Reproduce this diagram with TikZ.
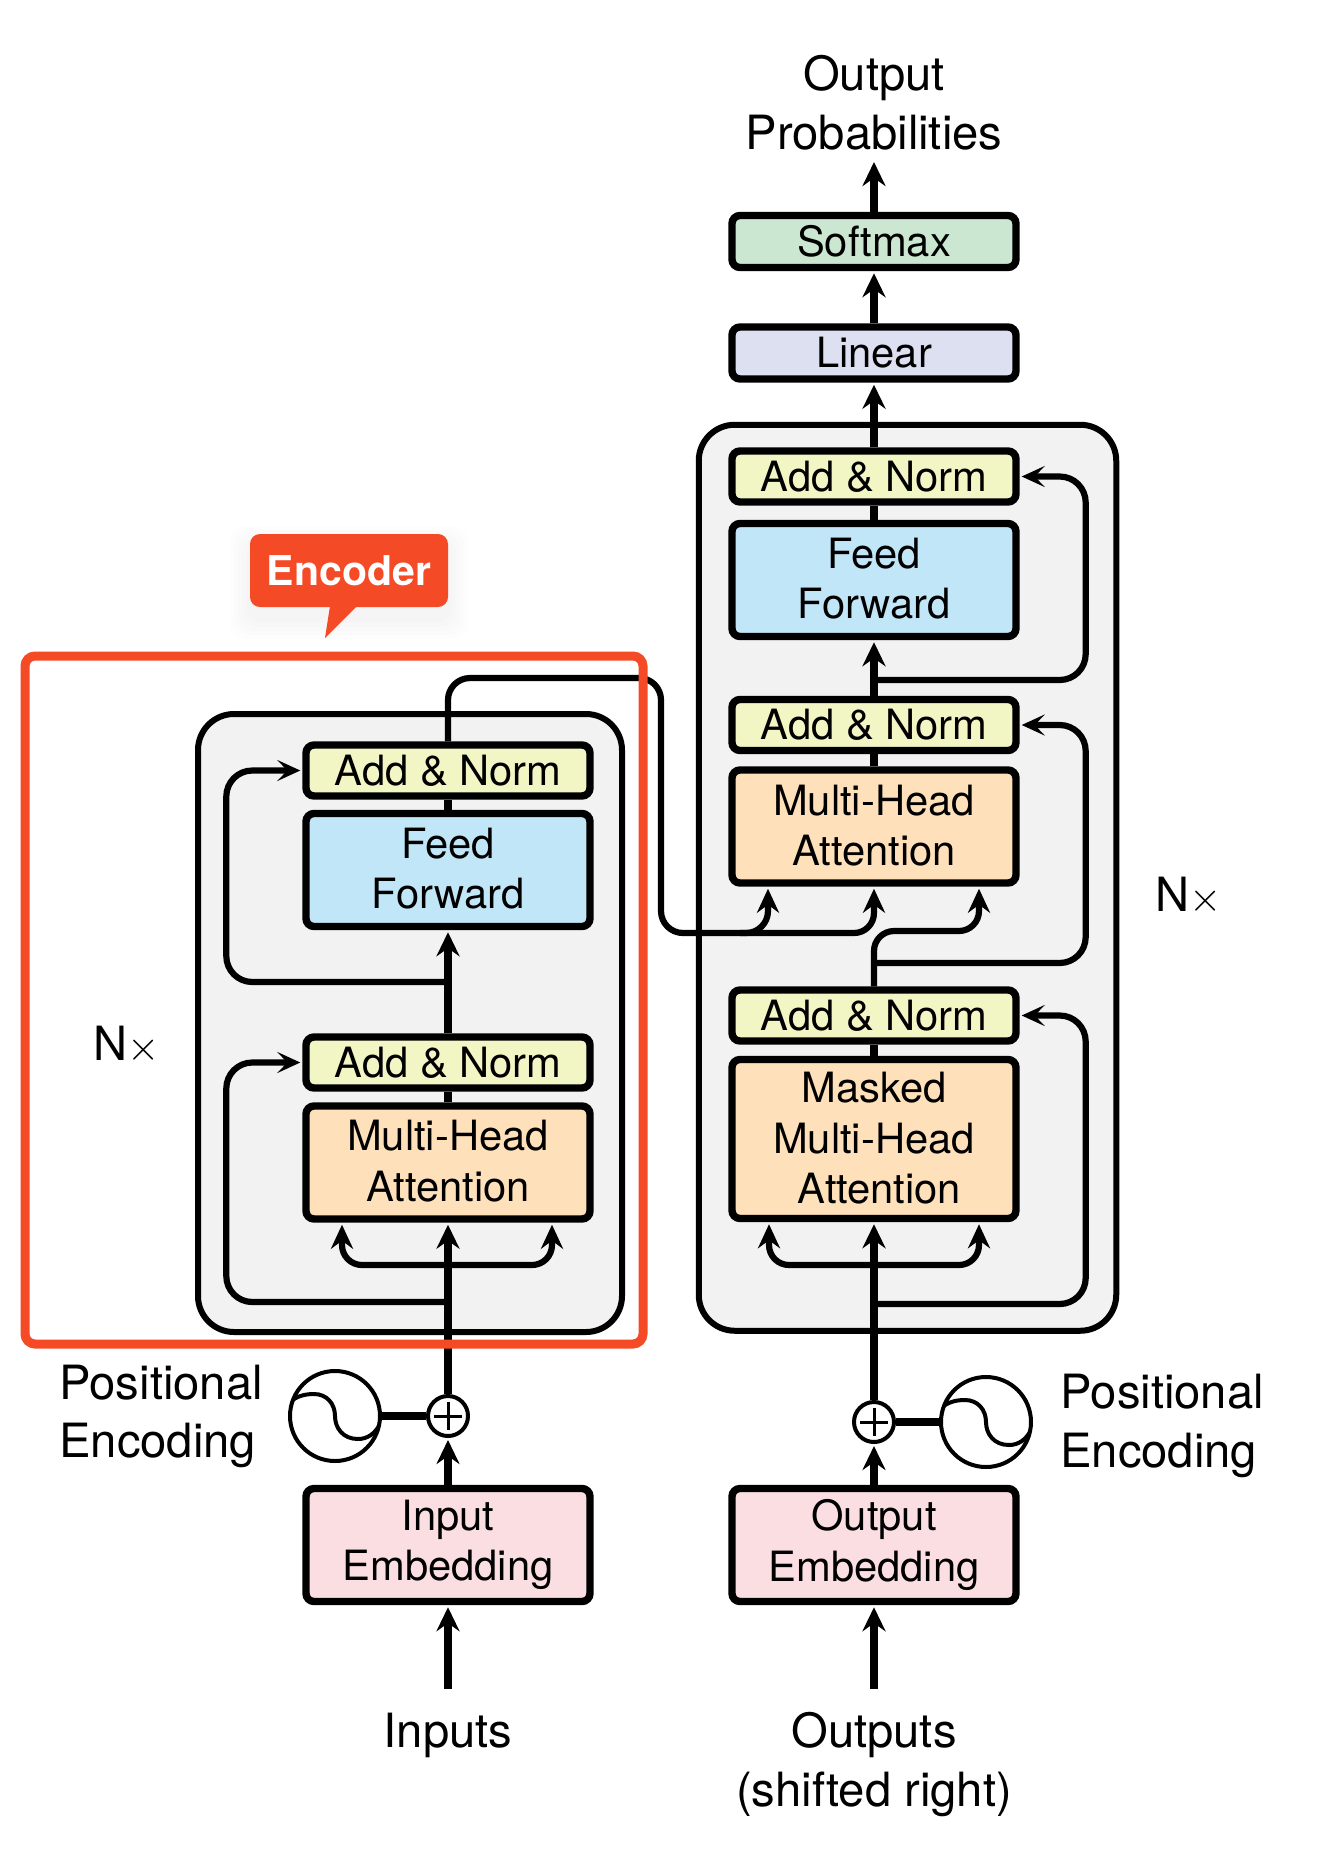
\documentclass[tikz,border=0pt]{standalone}
\usepackage{fontspec}
\setmainfont{TeX Gyre Heros}
\usetikzlibrary{arrows.meta}

\definecolor{encoderred}{HTML}{F54A26}
\definecolor{stackgray}{HTML}{F2F2F2}
\definecolor{addcolor}{HTML}{F2F5C4}
\definecolor{feedcolor}{HTML}{C1E6F8}
\definecolor{attncolor}{HTML}{FEE0BA}
\definecolor{embedcolor}{HTML}{FBDEE2}
\definecolor{softcolor}{HTML}{CCE7D1}
\definecolor{linearcolor}{HTML}{DDE0F1}

\newcommand{\boxfont}{\fontsize{20.85}{25.2}\selectfont}
\newcommand{\labelfont}{\fontsize{23.6}{29.4}\selectfont}
\newcommand{\repeatmark}{N{\fontsize{20}{20}\selectfont$\times$}}
\newcommand{\lift}[2]{\raisebox{#1}{#2}}

\tikzset{
  stack/.style={draw,line width=3pt,fill=stackgray,rounded corners=18pt,inner sep=0pt},
  block/.style={draw,line width=3.7pt,rounded corners=4pt,minimum width=142pt,inner sep=0pt,align=center,font=\boxfont},
  addnorm/.style={block,fill=addcolor,minimum height=25.5pt},
  feedbox/.style={block,fill=feedcolor,minimum height=56.5pt},
  attnbox/.style={block,fill=attncolor,minimum height=56.5pt},
  embedbox/.style={block,fill=embedcolor,minimum height=56.5pt},
  caption/.style={inner sep=0pt,align=center,font=\labelfont},
  stem/.style={line width=3.6pt},
  flow/.style={stem,shorten >=1pt,-{Stealth[length=12pt,width=11.5pt,inset=4pt]}},
  skip/.style={line width=3.1pt,rounded corners=13pt,shorten >=1pt,-{Stealth[length=11.5pt,width=10.5pt,inset=5pt]}},
  fork/.style={line width=3.1pt,rounded corners=10pt,shorten >=1pt,-{Stealth[length=12pt,width=11pt,inset=4pt]}},
  plusnode/.style={circle,draw,line width=2pt,fill=white,minimum size=20pt,inner sep=0pt,
    path picture={\draw[line width=1.5pt,shift={(path picture bounding box.center)}] (-14,0) -- (14,0) (0,-14) -- (0,14);}},
  wavenode/.style={circle,draw,line width=2pt,fill=white,minimum size=45pt,inner sep=0pt,
    path picture={\draw[line width=2pt,shift={(path picture bounding box.center)}]
      (-45,-14) .. controls (-38,-20) and (-30,-22) .. (-21,-22) .. controls (-8,-22) and (0,-12) .. (0,0)
      .. controls (0,12) and (8,23) .. (23,23) .. controls (32,23) and (40,18) .. (45,8);}}
}

\begin{document}
\begin{tikzpicture}[x=0.5pt,y=-0.5pt]
\useasboundingbox (0,0) rectangle (1320,1860);

% Draw the two gray stacks
\node [stack,minimum width=212pt,minimum height=309pt] (encstack) at (410,1023) {};
\node [stack,minimum width=208.75pt,minimum height=453pt] (decstack) at (907.5,877.75) {};

% Draw encoder blocks
\node [addnorm] (encaddtop) at (448,770.5) {Add \& Norm};
\node [feedbox] (encfeed) at (448,870) {\lift{1.5pt}{Feed}\\\lift{1.5pt}{Forward}};
\node [addnorm] (encaddlow) at (448,1062.5) {Add \& Norm};
\node [attnbox] (encattn) at (448,1162.5) {\lift{1.8pt}{Multi-Head}\\\lift{1.8pt}{Attention}};
\node [embedbox] (encembed) at (448,1545) {\lift{-1.2pt}{Input}\\\lift{-1.2pt}{Embedding}};

% Draw decoder blocks
\node [block,fill=softcolor,minimum height=26pt] (softmax) at (874,241.5) {Softmax};
\node [block,fill=linearcolor,minimum height=26pt] (linear) at (874,353) {Linear};
\node [addnorm] (decaddtop) at (874,476.5) {Add \& Norm};
\node [feedbox] (decfeed) at (874,580) {\lift{1.8pt}{Feed}\\\lift{1.8pt}{Forward}};
\node [addnorm] (decaddmid) at (874,725) {Add \& Norm};
\node [attnbox] (decattn) at (874,826.5) {\lift{1pt}{Multi-Head}\\\lift{1pt}{Attention}};
\node [addnorm] (decaddlow) at (874,1015.5) {Add \& Norm};
\node [attnbox,minimum height=79.5pt] (decmask) at (874,1139) {\lift{1pt}{Masked}\\\lift{1pt}{Multi-Head}\\\hspace*{5.5pt}\lift{1pt}{Attention}};
\node [embedbox] (decembed) at (874,1545) {\lift{-1.2pt}{Output}\\\lift{-1.2pt}{Embedding}};

% Draw plus and wave circles
\node [plusnode] (encplus) at (448,1416) {};
\node [wavenode] (encwave) at (335,1416) {};
\node [plusnode] (decplus) at (874,1422) {};
\node [wavenode] (decwave) at (986,1422) {};

% Draw texts
\node [caption] (outprob) at (874,103) {Output\\Probabilities};
\node [caption] (encpos) at (59,1416.5) [anchor=west,align=left] {Positional\\Encoding};
\node [caption] (decpos) at (1060,1426) [anchor=west,align=left] {Positional\\Encoding};
\node [caption] (inputs) at (448,1735.5) {Inputs};
\node [caption] (outputs) at (874,1764.5) {Outputs\\(shifted right)};
\node [caption] (encrepeat) at (127,1045) {\repeatmark};
\node [caption] (decrepeat) at (1189,896) {\repeatmark};

% Free ends and branch points
\coordinate (inputtail) at (448,1689);
\coordinate (outputtail) at (874,1689);
\coordinate (outprobfoot) at (874,160);
\coordinate (encforkA) at (448,1265);
\coordinate (encbranchA) at (448,1302);
\coordinate (encbranchB) at (448,982);
\coordinate (routetop) at (661,678);
\coordinate (routebottom) at (661,933);
\coordinate (routejoin) at (740,933);
\coordinate (decforkA) at (874,1265);
\coordinate (decbranchA) at (874,1304);
\coordinate (decbranchB) at (874,963);
\coordinate (decbranchC) at (874,680);
\coordinate (deccross) at (874,931);

% Encoder connectors
\draw [flow] (inputtail) -- (encembed.south);
\draw [flow] (encembed.north) -- (encplus.south);
\draw [stem] (encwave.east) -- (encplus.west);
\draw [flow] (encplus.north) -- (encattn.south);
\draw [fork] (encforkA) -| ([xshift=-53pt]encattn.south);
\draw [fork] (encforkA) -| ([xshift=52pt]encattn.south);
\draw [skip] (encbranchA) -| ([xshift=-38pt]encaddlow.west) -- (encaddlow.west);
\draw [stem] (encattn.north) -- (encaddlow.south);
\draw [flow] (encaddlow.north) -- (encfeed.south);
\draw [skip] (encbranchB) -| ([xshift=-38pt]encaddtop.west) -- (encaddtop.west);
\draw [stem] (encfeed.north) -- (encaddtop.south);

% Line from encoder to decoder
\draw [fork,rounded corners=11pt] (encaddtop.north) |- (routetop) -- (routebottom) -| ([xshift=-53pt]decattn.south);
\draw [fork] (routejoin) -| (decattn.south);
\draw [fork] (decaddlow.north) -- (deccross) -| ([xshift=52.5pt]decattn.south);

% Decoder connectors
\draw [flow] (outputtail) -- (decembed.south);
\draw [flow] (decembed.north) -- (decplus.south);
\draw [stem] (decwave.west) -- (decplus.east);
\draw [flow] (decplus.north) -- (decmask.south);
\draw [fork] (decforkA) -| ([xshift=-52.5pt]decmask.south);
\draw [fork] (decforkA) -| ([xshift=52.5pt]decmask.south);
\draw [skip] (decbranchA) -| ([xshift=33pt]decaddlow.east) -- (decaddlow.east);
\draw [stem] (decmask.north) -- (decaddlow.south);
\draw [skip] (decbranchB) -| ([xshift=33pt]decaddmid.east) -- (decaddmid.east);
\draw [stem] (decattn.north) -- (decaddmid.south);
\draw [flow] (decaddmid.north) -- (decfeed.south);
\draw [skip] (decbranchC) -| ([xshift=33pt]decaddtop.east) -- (decaddtop.east);
\draw [stem] (decfeed.north) -- (decaddtop.south);
\draw [flow] (decaddtop.north) -- (linear.south);
\draw [flow] (linear.north) -- (softmax.south);
\draw [flow] (softmax.north) -- (outprobfoot);

% Draw red frame and callout
\foreach \grow in {4,8,...,20} {
  \fill [black,opacity=0.008,rounded corners=8pt] (250-\grow,534-\grow+12) rectangle (448+\grow,607+\grow+12);
}
\node [draw=encoderred,line width=4.5pt,rounded corners=5pt,minimum width=309pt,minimum height=344pt,inner sep=0pt] (encframe) at (334,1000) {};
\node [fill=encoderred,rounded corners=5pt,minimum width=99pt,minimum height=36.5pt,inner sep=0pt,text=white,font=\fontsize{20.5}{24}\selectfont\bfseries] (encbadge) at (349,570.5) {Encoder};
\coordinate (badgeA) at (330,606);
\coordinate (badgeB) at (325,638);
\coordinate (badgeC) at (357,606);
\fill [encoderred] (badgeA) -- (badgeB) -- (badgeC) -- cycle;
\end{tikzpicture}
\end{document}
